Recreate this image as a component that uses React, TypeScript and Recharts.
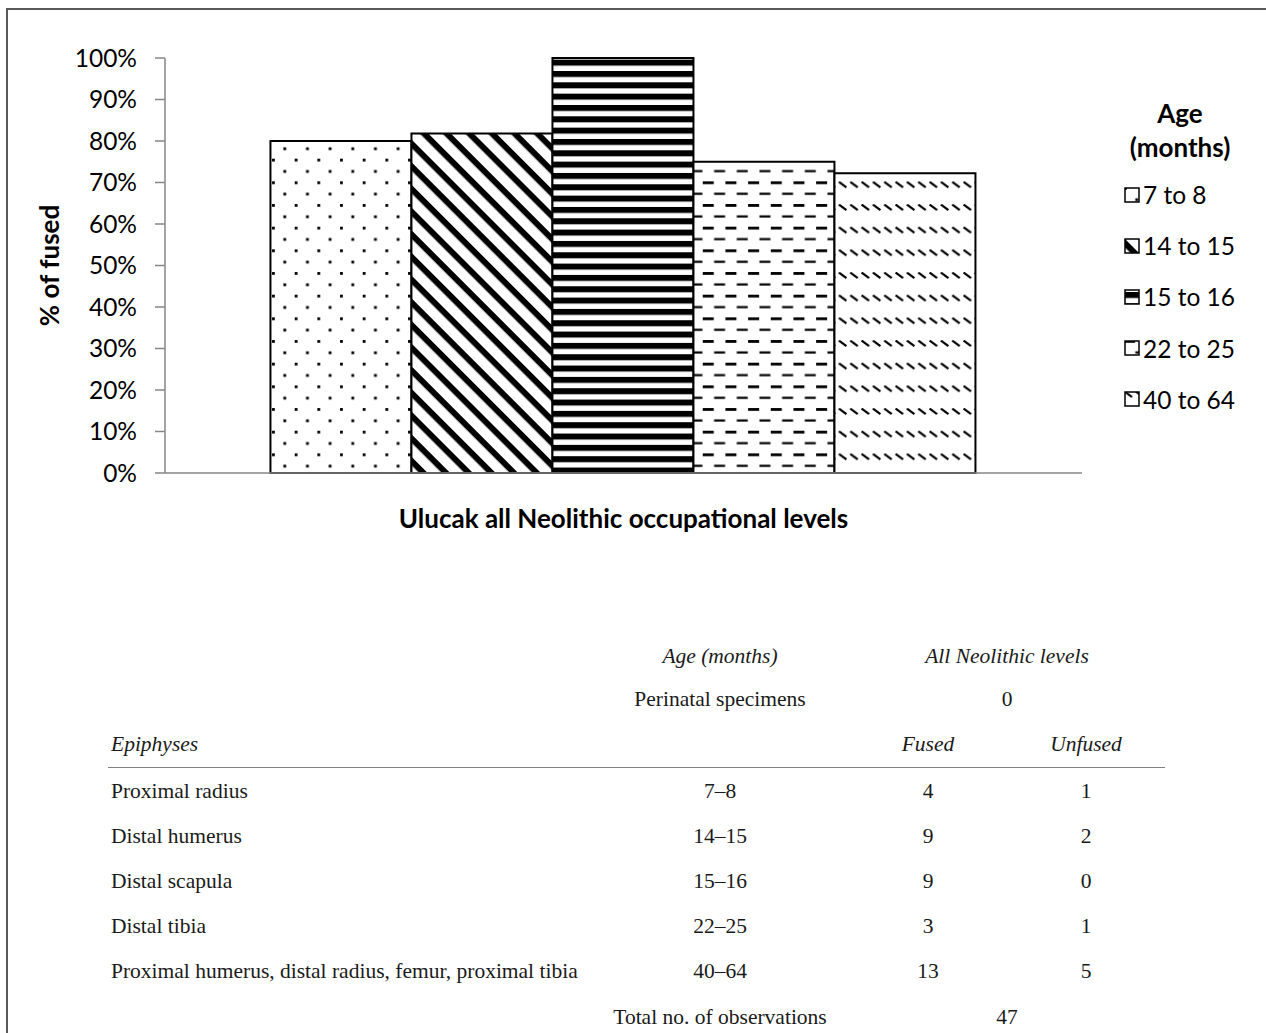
import React from 'react';
import { BarChart, Bar, XAxis, YAxis, Legend, Label } from 'recharts';

// ---- Chart data ----
const categories = ['Ulucak all Neolithic occupational levels'];
const seriesNames = ['7 to 8', '14 to 15', '15 to 16', '22 to 25', '40 to 64'];
const seriesValues = [80, 81.8, 100, 75, 72.2];
const yTicks = [0, 10, 20, 30, 40, 50, 60, 70, 80, 90, 100];
const patternIds = ['pDots', 'pDiag', 'pHoriz', 'pDash', 'pDashDiag'];

// ---- Table data ----
const tableHeaderAge = 'Age (months)';
const tableHeaderLevels = 'All Neolithic levels';
const perinatalLabel = 'Perinatal specimens';
const perinatalCount = '0';
const epiphysesHeader = 'Epiphyses';
const fusedHeader = 'Fused';
const unfusedHeader = 'Unfused';
const epiphyses = [
  'Proximal radius',
  'Distal humerus',
  'Distal scapula',
  'Distal tibia',
  'Proximal humerus, distal radius, femur, proximal tibia',
];
const ageRanges = ['7–8', '14–15', '15–16', '22–25', '40–64'];
const fusedCounts = [4, 9, 9, 3, 13];
const unfusedCounts = [1, 2, 0, 1, 5];
const totalLabel = 'Total no. of observations';
const totalCount = '47';

const data = categories.map((c) => {
  const row: any = { category: c };
  seriesNames.forEach((_, i) => {
    row['s' + i] = seriesValues[i];
  });
  return row;
});

const FONT = 'Lato, "Open Sans", sans-serif';
const SERIF = '"Liberation Serif", "DejaVu Serif", serif';
const TICK_SIZE = 24.5;
const BOLD_SIZE = 26;

const Patterns = () => (
  <defs>
    <pattern id="pDots" patternUnits="userSpaceOnUse" width={22.67} height={22.67}>
      <rect width={22.67} height={22.67} fill="#fff" />
      <rect x={0} y={0} width={2.8} height={2.8} fill="#000" />
      <rect x={11.33} y={11.33} width={2.8} height={2.8} fill="#000" />
    </pattern>
    <pattern id="pDiag" patternUnits="userSpaceOnUse" width={16.03} height={16.03} patternTransform="rotate(45)">
      <rect width={16.03} height={16.03} fill="#fff" />
      <rect x={0} y={0} width={16.03} height={6} fill="#000" />
    </pattern>
    <pattern id="pHoriz" patternUnits="userSpaceOnUse" width={10} height={11.33} y={3}>
      <rect width={10} height={11.33} fill="#fff" />
      <rect x={0} y={0} width={10} height={6} fill="#000" />
    </pattern>
    <pattern id="pDash" patternUnits="userSpaceOnUse" width={22.67} height={22.67}>
      <rect width={22.67} height={22.67} fill="#fff" />
      <rect x={0} y={0} width={11} height={2.8} fill="#000" />
      <rect x={11.33} y={11.33} width={11} height={2.2} fill="#000" />
    </pattern>
    <pattern id="pDashDiag" patternUnits="userSpaceOnUse" width={11.33} height={22.67}>
      <rect width={11.33} height={22.67} fill="#fff" />
      <path d="M0.5,0.5 L8,6" stroke="#000" strokeWidth={2.2} />
    </pattern>
  </defs>
);

const renderLegend = () => (
  <div style={{ fontFamily: FONT, fontSize: TICK_SIZE, color: '#000', width: 150 }}>
    <div style={{ fontWeight: 700, fontSize: BOLD_SIZE, textAlign: 'center', lineHeight: '34px', width: 140 }}>
      <div>Age</div>
      <div>(months)</div>
    </div>
    <div style={{ marginTop: 5 }}>
      {seriesNames.map((n, i) => (
        <div key={n} style={{ display: 'flex', alignItems: 'center', height: 51.2, paddingLeft: 14 }}>
          <svg width={16} height={16} style={{ marginRight: 3, flex: 'none' }}>
            <rect x={1} y={1} width={14} height={14} fill={`url(#${patternIds[i]})`} stroke="#000" strokeWidth={1.5} />
          </svg>
          <span style={{ whiteSpace: 'nowrap' }}>{n}</span>
        </div>
      ))}
    </div>
  </div>
);

const cell = (text: string, x: number, y: number, align: 'center' | 'left', italic = false) => (
  <div
    key={text + x + y}
    style={{
      position: 'absolute',
      left: x,
      top: y,
      transform: align === 'center' ? 'translate(-50%, -50%)' : 'translate(0, -50%)',
      whiteSpace: 'nowrap',
      fontFamily: SERIF,
      fontSize: 21.5,
      fontStyle: italic ? 'italic' : 'normal',
      color: '#1a1a1a',
      lineHeight: 1,
    }}
  >
    {text}
  </div>
);

export default function App() {
  const colAge = 720;
  const colLevels = 1007;
  const colFused = 928;
  const colUnfused = 1086;
  const colName = 111;
  const rowY = [792, 837, 882, 927, 972];
  return (
    <div style={{ position: 'absolute', left: 0, top: 0, width: 1266, height: 1033, overflow: 'hidden', background: '#fff' }}>
      <div
        style={{
          position: 'absolute',
          left: 6,
          top: 8,
          width: 1260,
          height: 1025,
          boxSizing: 'border-box',
          borderTop: '2px solid #5a5a5a',
          borderLeft: '2px solid #5a5a5a',
        }}
      />
      <div style={{ position: 'absolute', left: 0, top: 0 }}>
        <BarChart
          width={1266}
          height={560}
          data={data}
          margin={{ top: 58, right: 34, bottom: 47, left: 105 }}
          barCategoryGap="11.5%"
          barGap={0}
        >
          <Patterns />
          <XAxis
            dataKey="category"
            tick={false}
            tickLine={false}
            axisLine={{ stroke: '#868686', strokeWidth: 1.5 }}
            height={40}
          >
            <Label
              content={(p: any) => {
                const vb = p.viewBox || {};
                return (
                  <text
                    x={vb.x + vb.width / 2}
                    y={vb.y + 48}
                    textAnchor="middle"
                    dominantBaseline="middle"
                    style={{ fontFamily: FONT, fontSize: BOLD_SIZE, fontWeight: 700, fill: '#000' }}
                  >
                    {categories[0]}
                  </text>
                );
              }}
            />
          </XAxis>
          <YAxis
            domain={[0, 100]}
            ticks={yTicks}
            interval={0}
            width={60}
            tickFormatter={(v: number) => `${v}%`}
            tick={{ fontFamily: FONT, fontSize: TICK_SIZE, fill: '#000' }}
            tickSize={10}
            tickMargin={18}
            tickLine={{ stroke: '#868686', strokeWidth: 1.5 }}
            axisLine={{ stroke: '#868686', strokeWidth: 1.5 }}
          >
            <Label
              content={(p: any) => {
                const vb = p.viewBox || {};
                const x = vb.x - 53;
                const y = vb.y + vb.height / 2;
                return (
                  <text
                    x={x}
                    y={y}
                    transform={`rotate(-90, ${x}, ${y})`}
                    textAnchor="middle"
                    dominantBaseline="middle"
                    style={{ fontFamily: FONT, fontSize: BOLD_SIZE, fontWeight: 700, fill: '#000' }}
                  >
                    % of fused
                  </text>
                );
              }}
            />
          </YAxis>
          <Legend
            layout="vertical"
            align="right"
            verticalAlign="top"
            content={renderLegend}
            wrapperStyle={{ position: 'absolute', left: 1110, top: 96, width: 150 }}
          />
          {seriesNames.map((n, i) => (
            <Bar
              key={n}
              dataKey={'s' + i}
              name={n}
              fill={`url(#${patternIds[i]})`}
              stroke="#000"
              strokeWidth={2}
              isAnimationActive={false}
            />
          ))}
        </BarChart>
      </div>
      {/* Table */}
      {cell(tableHeaderAge, colAge, 657, 'center', true)}
      {cell(tableHeaderLevels, colLevels, 657, 'center', true)}
      {cell(perinatalLabel, colAge, 700, 'center')}
      {cell(perinatalCount, colLevels, 700, 'center')}
      {cell(epiphysesHeader, colName, 745, 'left', true)}
      {cell(fusedHeader, colFused, 745, 'center', true)}
      {cell(unfusedHeader, colUnfused, 745, 'center', true)}
      <div style={{ position: 'absolute', left: 108, top: 767, width: 1057, height: 0, borderTop: '1.5px solid #808080' }} />
      {epiphyses.map((e, i) => (
        <React.Fragment key={e}>
          {cell(e, colName, rowY[i], 'left')}
          {cell(ageRanges[i], colAge, rowY[i], 'center')}
          {cell(String(fusedCounts[i]), colFused, rowY[i], 'center')}
          {cell(String(unfusedCounts[i]), colUnfused, rowY[i], 'center')}
        </React.Fragment>
      ))}
      {cell(totalLabel, colAge, 1018, 'center')}
      {cell(totalCount, colLevels, 1018, 'center')}
    </div>
  );
}
